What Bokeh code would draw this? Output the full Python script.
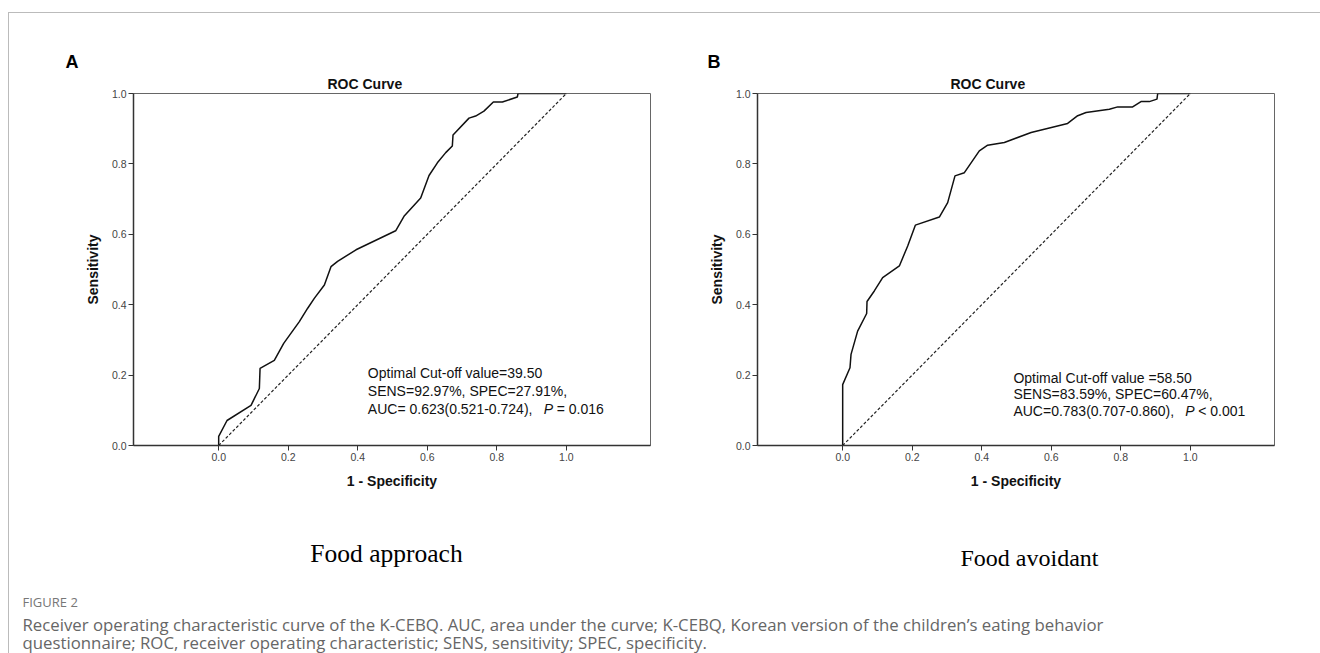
from bokeh.plotting import figure
from bokeh.models import Range1d, FixedTicker, PrintfTickFormatter, Label, Title
from bokeh.layouts import column, row
from bokeh.embed import file_html
from bokeh.resources import INLINE

# ---------------- data ----------------
ticks = [0.0, 0.2, 0.4, 0.6, 0.8, 1.0]
ref_line = [0.0, 1.0]

fa_fpr = [0, 0, 0.024, 0.093, 0.117, 0.119, 0.16, 0.187, 0.232, 0.256, 0.275, 0.304, 0.323,
          0.342, 0.395, 0.509, 0.533, 0.581, 0.605, 0.629, 0.653, 0.672, 0.674, 0.72, 0.739,
          0.763, 0.79, 0.816, 0.859, 0.861, 1.0]
fa_tpr = [0, 0.026, 0.071, 0.114, 0.162, 0.219, 0.242, 0.29, 0.352, 0.39, 0.418, 0.456, 0.508,
          0.523, 0.556, 0.610, 0.651, 0.703, 0.767, 0.803, 0.832, 0.851, 0.882, 0.930, 0.936,
          0.950, 0.976, 0.976, 0.990, 1.0, 1.0]

fv_fpr = [0, 0, 0.021, 0.024, 0.043, 0.069, 0.070, 0.091, 0.115, 0.163, 0.187, 0.209, 0.278,
          0.302, 0.323, 0.350, 0.393, 0.417, 0.465, 0.542, 0.647, 0.676, 0.700, 0.767, 0.791,
          0.834, 0.858, 0.882, 0.904, 0.906, 1.0]
fv_tpr = [0, 0.173, 0.221, 0.259, 0.325, 0.375, 0.409, 0.439, 0.477, 0.510, 0.567, 0.626, 0.649,
          0.690, 0.766, 0.775, 0.837, 0.853, 0.861, 0.889, 0.915, 0.937, 0.946, 0.955, 0.962,
          0.962, 0.977, 0.977, 0.984, 1.0, 1.0]

panel_letters = ["A", "B"]
panel_title = "ROC Curve"
panel_names = ["Food approach", "Food avoidant"]
ann_line1 = ["Optimal Cut-off value=39.50", "Optimal Cut-off value =58.50"]
ann_line2 = ["SENS=92.97%, SPEC=27.91%,", "SENS=83.59%, SPEC=60.47%,"]
ann_line3a = ["AUC= 0.623(0.521-0.724), ", "AUC=0.783(0.707-0.860), "]
ann_line3p = ["= 0.016", "< 0.001"]

caption_head = "FIGURE 2"
caption_1 = ("Receiver operating characteristic curve of the K-CEBQ. AUC, area under the curve; "
             "K-CEBQ, Korean version of the children\u2019s eating behavior")
caption_2 = "questionnaire; ROC, receiver operating characteristic; SENS, sensitivity; SPEC, specificity."

FONT = "Liberation Sans"


def roc_fig(i, fpr, tpr, width, mbl, mbr, mbt, mbb, height,
            letter_off, title_off, ann_x, ann_ys, p_x):
    p = figure(width=width, height=height, x_range=Range1d(-0.245, 1.242), y_range=Range1d(0, 1),
               output_backend="svg", toolbar_location=None,
               min_border_left=mbl, min_border_right=mbr, min_border_top=mbt, min_border_bottom=mbb)
    p.grid.visible = False
    p.outline_line_color = "#666666"
    p.outline_line_width = 1
    for ax in (p.xaxis[0], p.yaxis[0]):
        ax.ticker = FixedTicker(ticks=ticks)
        ax.formatter = PrintfTickFormatter(format="%.1f")
        ax.minor_tick_line_color = None
        ax.major_tick_in = 0
        ax.major_tick_out = 5
        ax.axis_line_color = "#333333"
        ax.axis_line_width = 1.5
        ax.major_tick_line_color = "#333333"
        ax.major_label_text_font = FONT
        ax.major_label_text_font_size = "10.5px"
        ax.major_label_text_color = "#444444"
        ax.major_label_standoff = 2
        ax.axis_label_text_font = FONT
        ax.axis_label_text_font_style = "bold"
        ax.axis_label_text_font_size = "14px"
        ax.axis_label_text_color = "#111111"
    p.xaxis.axis_label = "1 - Specificity"
    p.yaxis.axis_label = "Sensitivity"
    p.xaxis.axis_label_standoff = 9
    p.yaxis.axis_label_standoff = 8

    # panel letter (outermost) and chart title (next to the frame)
    p.title.text = panel_letters[i]
    p.title.align = "left"
    p.title.offset = letter_off
    p.title.text_font = FONT
    p.title.text_font_style = "bold"
    p.title.text_font_size = "18px"
    p.title.text_color = "#000000"
    p.title.standoff = 2
    p.add_layout(Title(text=panel_title, align="left", offset=title_off, text_font=FONT,
                       text_font_style="bold", text_font_size="14px", text_color="#111111",
                       standoff=3), "above")

    p.line(ref_line, ref_line, line_color="#222222", line_width=1.2, line_dash="3 2")
    p.line(fpr, tpr, line_color="#111111", line_width=1.5)

    for txt, yy in zip([ann_line1[i], ann_line2[i], ann_line3a[i]], ann_ys):
        p.add_layout(Label(x=ann_x, y=yy, text=txt, text_font=FONT, text_font_size="14px",
                           text_baseline="middle", text_color="#111111"))
    p.add_layout(Label(x=p_x, y=ann_ys[2], text="P", text_font=FONT, text_font_size="14px",
                       text_font_style="italic", text_baseline="middle", text_color="#111111"))
    p.add_layout(Label(x=p_x, y=ann_ys[2], x_offset=13, text=ann_line3p[i], text_font=FONT,
                       text_font_size="14px", text_baseline="middle", text_color="#111111"))
    return p


figA = roc_fig(0, fa_fpr, fa_tpr, 691, 124, 50, 78, 60, 492,
               -68, 194, 0.429, [0.205, 0.154, 0.105], 0.935)
figB = roc_fig(1, fv_fpr, fv_tpr, 620, 57, 46, 80, 57, 492,
               -50, 193, 0.491, [0.192, 0.145, 0.098], 0.985)

# lower strip: panel names and figure caption
figC = figure(width=1311, height=148, x_range=Range1d(0, 1311), y_range=Range1d(148, 0),
              x_axis_type=None, y_axis_type=None, output_backend="svg", toolbar_location=None,
              min_border=0)
figC.grid.visible = False
figC.outline_line_color = None
figC.add_layout(Label(x=377, y=48, text=panel_names[0], text_font="Liberation Serif",
                      text_font_size="25.5px", text_align="center", text_baseline="middle",
                      text_color="#000000"))
figC.add_layout(Label(x=1020, y=52, text=panel_names[1], text_font="Liberation Serif",
                      text_font_size="24px", text_align="center", text_baseline="middle",
                      text_color="#000000"))
figC.add_layout(Label(x=13, y=96, text=caption_head, text_font="Open Sans", text_font_size="13px",
                      text_baseline="middle", text_color="#777777"))
figC.add_layout(Label(x=13, y=119, text=caption_1, text_font="Open Sans", text_font_size="16.8px",
                      text_baseline="middle", text_color="#666666"))
figC.add_layout(Label(x=13, y=137, text=caption_2, text_font="Open Sans", text_font_size="16.8px",
                      text_baseline="middle", text_color="#666666"))

layout = column(row(figA, figB, spacing=0), figC, spacing=0, margin=(12, 0, 0, 8),
                styles={"border-left": "1px solid #bbbbbb", "border-top": "1px solid #bbbbbb"})

open("out.html", "w").write(file_html(layout, INLINE))
